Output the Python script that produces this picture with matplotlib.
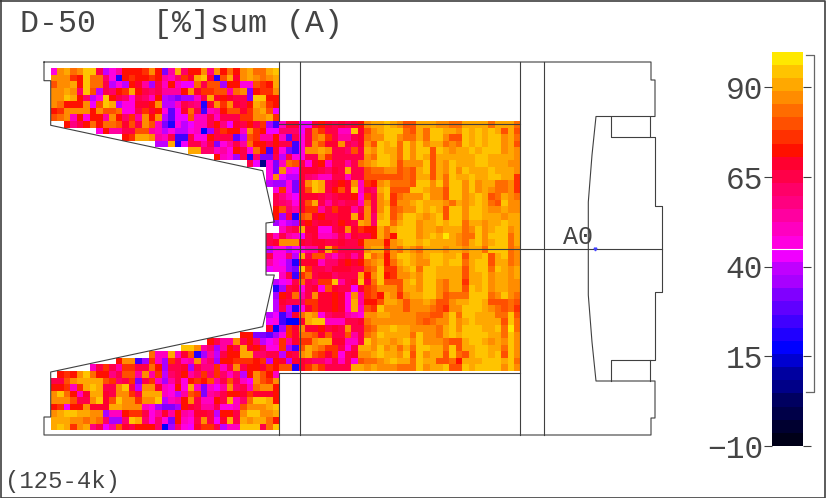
import numpy as np
import matplotlib
matplotlib.use("Agg")
import matplotlib.pyplot as plt
from matplotlib.colors import ListedColormap, BoundaryNorm

# colour steps of the legend, low to high
band_colors = ["#000018", "#000030", "#000048", "#000060", "#000088", "#0000a0", "#0000d0", "#0000ff",
               "#2000ff", "#4000ff", "#6000ff", "#8000ff", "#a800ff", "#c000ff", "#f000ff",
               "#ff00e0", "#ff00c0", "#ff00a0", "#ff0080", "#ff0068", "#ff0048", "#ff0030",
               "#ff1000", "#ff3000", "#ff5000", "#ff6c00", "#ff8c00", "#ffa800", "#ffc400", "#ffe800"]
tick_values = [-10, 15, 40, 65, 90]
tick_labels = ["\u221210", "15", "40", "65", "90"]
range_low, range_high = 5, 99

# one character per cell = legend step (base 36)
# left part, rows top to bottom, columns 0-34 (right aligned, blank cells dropped)
wing = [
    "fqrpq sskdf hmmmn qmbhr jmmqi qmpmq rpprs",
    "qqqnm sppjf 8mnmm nmhgj nlrsl 8orlq rqpqr",
    "oqqrm sppkd fdmlh ckgmg eepko ocmmf fonmr",
    "qqrqj sodkj mnrmk jkhhh mqlnn oohpq bmnnq",
    "qqsrm jdfsm kjfkj gmdcb ccgkr lmlkk bssmm",
    "qpmmm qeosr dffll mqddg kji8l qnqlk mrqnm",
    "mnqqq qmqoo pffkn lmfae lpk9g hmool nqroe",
    "opqgm fmmhq mjnhq mqdae eoggk gkkkn nqqrn",
    "mik mpmpp olokq ogb8f deggk mielk mknc9",
    "fmh hkkoo hgdfd dfg7c knmmg qnmee",
    "mnrr qhgk9 9kffm kkkad onhhm",
    "ddr8 ekkhk bfhkh pmmkm",
    "rrjj ghfmk fpm9l",
    "mgfck 8jbbk",
    "ke4fb",
    "fb", "fq", "dc", "f", "k", "k", "m", "m", "c", "",
    "kg", "kl", "df", "kf", "hf", "ef", "", "d", "8", "c", "d", "d", "de", "ef", "l7",
    "m mbbac",
    "m khhqk mjdeg",
    "ssqhj chmkr lmkff",
    "pggrg lo8ch dkmmr rjjkk",
    "mqq9c ngcnk ghqhj cmmnn nmndm",
    "gknk hnnkk pmckk lckii ngkqk mmlnm",
    "mnmq spmmi koohq hndjk mhjnj njgjd mqomg",
    "kkoqr rrron jknbk ngchk fmnmo hkokg eqonq",
    "mmngn rsrkk qskdq qlgfm frgbg ehqjk gpqqm",
    "qspmg lrrlk qqnkr rrgfd honbh ikmml nlllm",
    "qqqok kqslo sqqnq qsdgh mqkgg mkrgj pssrm",
    "mnemm qlllr rqqqg fcbbc mlkhh kffgo qqqrs",
    "qrssr rqqcg gmnnk fhlhm hgllk dmmkq ssqqr",
    "rrrqq pqpjc cjsrj fjfbm gfkqk elrkr qrrpm",
    "rsrnq rikeh olkmm mj7cj felnn kdggs sskps",
]
# middle part, rows 8-45, columns 35-47
body_left = [
    "gllee lmlkl klm", "jjjek pnkkg gsl", "gakfk pqnkh hkl", "kk9fk qollq kjl",
    "fb9fq qrqkk jok", "dkffk kqnkk kkk", "gpokf lmgkk hkp", "qfell lkjlk rkk",
    "eddlj iggkk gkk", "cfblq srklm lqg", "nfblo srkmo lsg", "igell lkjkl lmf",
    "jiflo rkhkj kkg", "ojhln nhknl lhk", "ck8op lmkkl lrl", "edclm kllkm lkr",
    "gjkrl lffkl qln", "khgek lgghk hlk", "qqqlk llkkl kkm", "fdefh hlrnk kkk",
    "fjdrk ooigj khk", "ec8ll lgjjl mlm", "fcbsn kkjll lkk", "gk9np klljk kkr",
    "efkpk jnnsh kls", "cklfk lfolk kel", "mlphk qllml fqh", "lkkjn nllml frh",
    "kd8fl nllml frg", "9clpr qfjkk hgf", "977lr ssggg kkl", "cnlql lmklk qkk",
    "fnlpp olokk ohk", "nhlnn qrrll ggk", "nc9or qpnnk fkr", "dlkqr onlnf klq",
    "ldllk jjhkg kfo", "oo8ln pnkkk krr",
]
# middle part, rows 8-45, columns 48-71
body_right = [
    "qrrsr qoorr rqqpp rrrrp rrrp", "oqrss spoRp ssrrq srsrs roro".lower(),
    "pqqss qpprp ssqoo srsrs sqrp", "qosrs psqsq rrpqp srsrs sqro",
    "rqsrr psqss osrqr rsrss sqrq", "qpssr psqsr orrrr rrssr rrrq",
    "qrssr oqqqs orqsr rrssr rrqq", "oppqq opors orqsq srrrs rrrq",
    "ooooo oporr orpsr rsrrs srrn", "nmqrp pposs qspss qsqrr ppqn",
    "kjrso oossr qqoss qsqrq ppqn", "nkqsn pqqqs qqoss qrsro prqp",
    "pkqrn qqrsr rrqpr qrsrp osqq", "qkqso pqqsr sross qssrq qrqq",
    "qjrso qssrq rsoss qssrr rqrr", "qjssp rssqr rsrss prrqr rsrr",
    "mmrpr sssqr rqrrr pqsqr ssqr", "kmrpm sssqr srtrq ppsqs sspr",
    "qqqmq rssrs rrrrq prsqr sspr", "qrrnq prqpr rrqrr qrrps sspq",
    "spqmq ssrqr ssrrs orrso rspq", "pqrmp rsrqq ssrss prsso rrpq",
    "opsnn qrsps srrrr orssp srqr", "mqsmn qqrqs srrrr orrsq rrqr",
    "lpsoo orsqs sqprr nrrsq rrqq", "noqqq orrqs sqprr osrsq rrqq",
    "nomrq nqrrs sqopp psssp qsqp", "mmorr qoqqr qooqr rssro oopo",
    "onsqq qoqqq ponqq sssrq popn", "qqrrq qqqpp ooqsp ssrrr ppso",
    "pqqqq qqqpo pqqsq rsrrr rosp", "oprrs rrqqq qprsq sssrr sptp",
    "pqsrr rrpsq qprsr ssssr rpsq", "sqrrq rsqsq qqpoo rssrq rqsq",
    "rqsqr prpss rrpso rrssr rpsq", "qrsrr qsosq rrosp orssr sosq",
    "ppqrs rrpsr roopm rrrss srsp", "qrqqq pppsq rrsoo srsss sqsq",
]


def to_values(row, width, right=True):
    # turn a row of step characters into percent values at the step centres
    row = row.replace(" ", "")
    row = row.rjust(width, ".") if right else row.ljust(width, ".")
    return [np.nan if c == "." else -10 + (int(c, 36) + 0.5) * 110 / 30 for c in row[:width]]


grid = np.full((55, 72), np.nan)
for r, row in enumerate(wing):
    grid[r, :35] = to_values(row, 35)
for r, row in enumerate(body_left):
    grid[r + 8, 35:48] = to_values(row, 13, right=False)
for r, row in enumerate(body_right):
    grid[r + 8, 48:] = to_values(row, 24, right=False)

cmap = ListedColormap(band_colors)
edges = np.linspace(-10, 100, 31)
norm = BoundaryNorm(edges, cmap.N)

fig = plt.figure(figsize=(8.26, 4.98), dpi=100)
ax = fig.add_axes([0, 0, 1, 1])
ax.set_xlim(0, 826)
ax.set_ylim(498, 0)
ax.axis("off")

x_edges = 50.5 + 6.535 * np.arange(73)
y_edges = 68.3 + 6.58 * np.arange(56)
ax.pcolormesh(x_edges, y_edges, np.ma.masked_invalid(grid), cmap=cmap, norm=norm, antialiased=False)

# machine outline
line_color = "#404040"
lw = 0.8
outline_x = [44, 651, 651, 655, 655, 596, 592, 588.3, 588.3, 592, 596, 655, 655, 651, 651, 44, 44, 50.7, 50.7,
             262.7, 274.3, 266, 266, 274.3, 262.7, 50.7, 50.7, 44, 44]
outline_y = [62, 62, 80, 80, 116.5, 116.5, 155, 202, 295, 342, 381, 381, 418, 418, 435, 435, 417, 417, 372,
             326.7, 275, 275, 223, 222, 170.7, 125.3, 80.7, 80.7, 62]
ax.plot(outline_x, outline_y, color=line_color, lw=lw)
ax.plot([611, 611, 650, 650], [116.5, 137, 137, 116.5], color=line_color, lw=lw)
ax.plot([650, 654.5, 654.5, 661.7, 661.7, 654.5, 654.5, 611, 611], [137, 137, 206, 206, 292, 292, 360, 360, 381],
        color=line_color, lw=lw)
ax.plot([650, 650], [360, 381], color=line_color, lw=lw)
for x in [300.3, 520, 543.5]:
    ax.plot([x, x], [62, 435], color=line_color, lw=lw)
ax.plot([278.5, 278.5], [62, 121], color=line_color, lw=lw)
ax.plot([278.5, 278.5], [373, 435], color=line_color, lw=lw)
ax.plot([278.5, 520], [123.5, 123.5], color=line_color, lw=lw)
ax.plot([278.5, 520], [373, 373], color=line_color, lw=lw)
ax.plot([266, 661.7], [248.5, 248.5], color=line_color, lw=lw)
ax.plot([594.7], [248.8], marker="v", ms=2, color="#4040ff", lw=0)

mono = "Liberation Mono"
text_color = "#444444"
ax.text(20, 24, "D-50   [%]sum (A)", family=mono, fontsize=22.8, color=text_color, va="center", ha="left")
ax.text(563, 237, "A0", family=mono, fontsize=18, color=text_color, va="center", ha="left")
ax.text(5, 481, "(125-4k)", family=mono, fontsize=17.2, color=text_color, va="center", ha="left")

# figure border
ax.plot([0.5, 825, 825, 0.5, 0.5], [0.5, 0.5, 497.5, 497.5, 0.5], color="#404040", lw=1.2, clip_on=False)

# legend bar
cax = fig.add_axes([772 / 826, 1 - 446 / 498, 31 / 826, (446 - 51.5) / 498])
cax.pcolormesh([0, 1], edges, np.array(edges[:-1] + 0.01).reshape(-1, 1), cmap=cmap, norm=norm, antialiased=False)
cax.axhline(45, color="white", lw=0.8)
cax.set_xlim(0, 1)
cax.set_ylim(-10, 100)
cax.set_xticks([])
cax.set_yticks(tick_values)
cax.set_yticklabels(tick_labels, family=mono, fontsize=22.5, color=text_color)
cax.tick_params(axis="y", left=True, right=True, length=5.5, width=0.8, color=line_color, pad=1)
for s in cax.spines.values():
    s.set_visible(False)
# data range bracket right of the bar
tr = cax.get_yaxis_transform()
cax.plot([1.1, 1.36, 1.36, 1.1], [range_high, range_high, range_low, range_low], color="#666666", lw=0.9,
         transform=tr, clip_on=False)

fig.savefig("out.png", dpi=100)
